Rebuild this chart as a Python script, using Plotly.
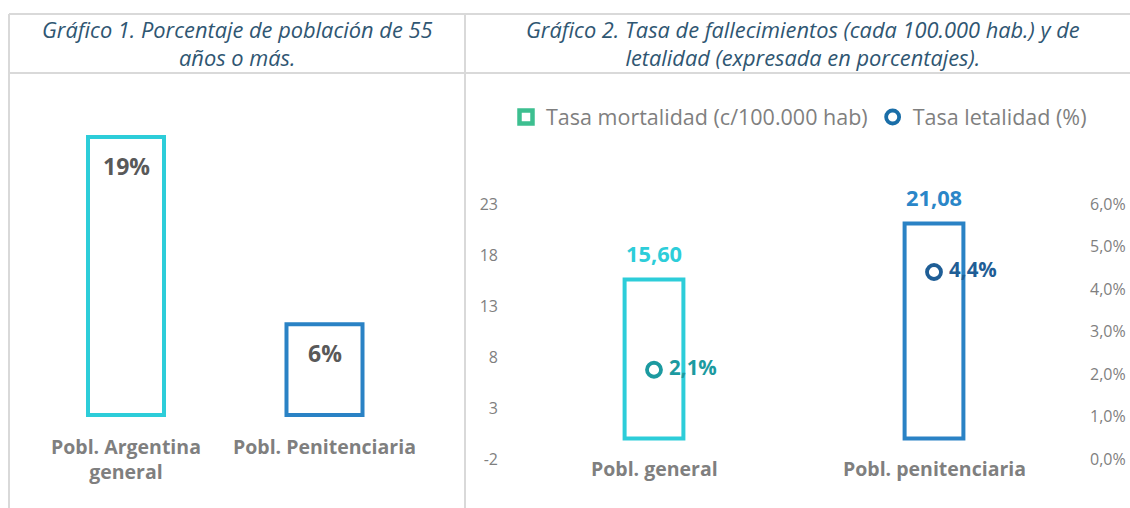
import plotly.graph_objects as go

# ---------------- data ----------------
cat1 = ["Pobl. Argentina general", "Pobl. Penitenciaria"]
cat1_labels = ["Pobl. Argentina<br>general", "Pobl. Penitenciaria"]
pct55 = [19.0, 6.2]

cat2 = ["Pobl. general", "Pobl. penitenciaria"]
mortalidad = [15.60, 21.08]
letalidad = [0.021, 0.044]

left_ticks = [-2, 3, 8, 13, 18, 23]
left_tick_text = [str(v) for v in left_ticks]
right_ticks = [0.0, 0.01, 0.02, 0.03, 0.04, 0.05, 0.06]

title1 = "Gráfico 1. Porcentaje de población de 55<br>años o más."
title2 = "Gráfico 2. Tasa de fallecimientos (cada 100.000 hab.) y de<br>letalidad (expresada en porcentajes)."
legend_names = ["Tasa mortalidad (c/100.000 hab)", "Tasa letalidad (%)"]

# ---------------- style ----------------
W, H = 1130, 508
FONT = "Open Sans"
bar_cols = ["#2dcdd9", "#2a82c5"]
val_cols = ["#2dcdd9", "#2a86c8"]
mk_cols = ["#1c9aa0", "#1f5e96"]
grey = "#7f7f7f"
dark = "#595959"
title_col = "#2f5672"
border = "#d9d9d9"

def px(x):
    return x / W

def py(y):
    return 1 - y / H

fig = go.Figure()

# chart 1 bars
fig.add_trace(go.Bar(
    x=cat1, y=pct55, xaxis="x", yaxis="y", width=0.383,
    marker=dict(color="white", line=dict(color=bar_cols, width=4)),
    showlegend=False, hoverinfo="skip"))

# chart 2 bars
fig.add_trace(go.Bar(
    x=cat2, y=mortalidad, xaxis="x2", yaxis="y2", width=0.21,
    marker=dict(color="white", line=dict(color=bar_cols, width=4)),
    showlegend=False, hoverinfo="skip"))

# chart 2 letalidad markers
fig.add_trace(go.Scatter(
    x=cat2, y=letalidad, xaxis="x2", yaxis="y3", mode="markers+text",
    marker=dict(symbol="circle", size=14, color="white",
                line=dict(color=mk_cols, width=3.8)),
    texttemplate="\u00a0%{y:.1%}", textposition="middle right",
    textfont=dict(family=FONT, size=20.5, color=mk_cols, weight="bold"),
    showlegend=False, hoverinfo="skip", cliponaxis=False))

# legend-only entries
fig.add_trace(go.Scatter(
    x=[None], y=[None], xaxis="x2", yaxis="y2", mode="markers",
    name=legend_names[0],
    marker=dict(symbol="square", size=13, color="white",
                line=dict(color="#3dbf90", width=4.5))))
fig.add_trace(go.Scatter(
    x=[None], y=[None], xaxis="x2", yaxis="y3", mode="markers",
    name=legend_names[1],
    marker=dict(symbol="circle", size=13, color="white",
                line=dict(color="#1a6ea8", width=3.8))))

annotations = []
# titles
annotations.append(dict(text=title1, x=px(237), y=py(43.5), xref="paper", yref="paper",
                        showarrow=False, xanchor="center", yanchor="middle",
                        font=dict(family=FONT, size=21.8, color=title_col, style="italic")))
annotations.append(dict(text=title2, x=px(803), y=py(44), xref="paper", yref="paper",
                        showarrow=False, xanchor="center", yanchor="middle",
                        font=dict(family=FONT, size=21.8, color=title_col, style="italic")))

# chart 1 value labels (inside, near top)
for c, v in zip(cat1, pct55):
    annotations.append(dict(text=f"{round(v)}%", x=c, y=v, xref="x", yref="y",
                            showarrow=False, xanchor="center", yanchor="middle", yshift=-29,
                            font=dict(family=FONT, size=23, color=dark, weight="bold")))
# chart 1 category labels
for c, t in zip(cat1, cat1_labels):
    annotations.append(dict(text=t, x=c, y=py(431), xref="x", yref="paper",
                            showarrow=False, xanchor="center", yanchor="top",
                            font=dict(family=FONT, size=19.5, color=grey, weight="bold")))
# chart 2 value labels (above bars)
for c, v, col in zip(cat2, mortalidad, val_cols):
    annotations.append(dict(text=f"{v:.2f}".replace(".", ","), x=c, y=v, xref="x2", yref="y2",
                            showarrow=False, xanchor="center", yanchor="middle", yshift=26,
                            font=dict(family=FONT, size=21.8, color=col, weight="bold")))
# chart 2 category labels
for c in cat2:
    annotations.append(dict(text=c, x=c, y=py(453), xref="x2", yref="paper",
                            showarrow=False, xanchor="center", yanchor="top",
                            font=dict(family=FONT, size=19.5, color=grey, weight="bold")))

# table borders
line = dict(color=border, width=2)
shapes = [
    dict(type="line", xref="paper", yref="paper", x0=px(9), x1=1, y0=py(14), y1=py(14), line=line),
    dict(type="line", xref="paper", yref="paper", x0=px(9), x1=1, y0=py(73), y1=py(73), line=line),
    dict(type="line", xref="paper", yref="paper", x0=px(9), x1=px(9), y0=py(14), y1=0, line=line),
    dict(type="line", xref="paper", yref="paper", x0=px(465), x1=px(465), y0=py(14), y1=0, line=line),
]

fig.update_layout(
    width=W, height=H, margin=dict(l=0, r=0, t=0, b=0, pad=0, autoexpand=False),
    paper_bgcolor="white", plot_bgcolor="rgba(0,0,0,0)",
    separators=",.",
    font=dict(family=FONT, color=grey),
    annotations=annotations, shapes=shapes,
    showlegend=True,
    legend=dict(orientation="h", x=px(506), y=py(117), xanchor="left", yanchor="middle",
                font=dict(family=FONT, size=21.5, color=grey),
                bgcolor="rgba(0,0,0,0)", itemclick=False, itemdoubleclick=False),
    xaxis=dict(domain=[px(26.75), px(423.75)], range=[-0.5, 1.5], anchor="y", automargin=False,
               showticklabels=False, showgrid=False, zeroline=False, showline=False, fixedrange=True),
    yaxis=dict(domain=[py(417.2), py(122.4)], range=[-0.15, 20], anchor="x", automargin=False,
               visible=False, fixedrange=True),
    xaxis2=dict(domain=[px(514), px(1074)], range=[-0.5, 1.5], anchor="y2", automargin=False,
                showticklabels=False, showgrid=False, zeroline=False, showline=False, fixedrange=True),
    yaxis2=dict(domain=[py(459), py(204)], range=[-2, 23], anchor="x2", automargin=False,
                tickvals=left_ticks, ticktext=left_tick_text,
                showgrid=False, zeroline=False, showline=False,
                ticklabelstandoff=15,
                tickfont=dict(family=FONT, size=16, color=grey), fixedrange=True),
    yaxis3=dict(range=[0, 0.06], overlaying="y2", side="right", anchor="x2", automargin=False,
                tickvals=right_ticks, tickformat=".1%", showgrid=False, zeroline=False,
                showline=False, ticklabelstandoff=15,
                tickfont=dict(family=FONT, size=16, color=grey), fixedrange=True),
)

fig.write_html("out.html", config={"displayModeBar": False},
               post_script="document.body.style.margin='0';document.body.style.overflow='hidden';")
